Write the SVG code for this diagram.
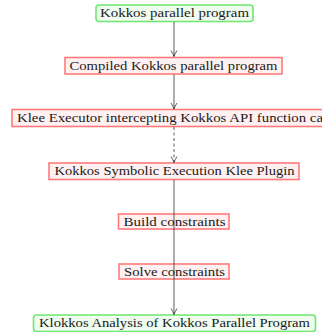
<svg xmlns="http://www.w3.org/2000/svg" width="322" height="332" viewBox="0 0 322 332">
<style>
.g{fill:#effcef;stroke:#6fe86f;stroke-width:1.6}
.r{fill:#fff1f1;stroke:#ff7b7b;stroke-width:1.6}
text{font-family:"Liberation Serif","DejaVu Serif",serif;font-size:12px;fill:#1a1a1a;text-anchor:middle}
.c{stroke:#333;stroke-width:0.8;fill:none}
</style>
<defs>
<marker id="ah" viewBox="0 0 8 8" refX="7" refY="4" markerWidth="8" markerHeight="8" markerUnits="userSpaceOnUse" orient="auto">
<path d="M1,1 Q4,3 7,4 Q4,5 1,7" fill="none" stroke="#333" stroke-width="0.8"/>
</marker>
</defs>
<g id="n1"><rect class="g" x="96" y="5" width="157" height="16.5" rx="3"/><text x="174.5" y="17.3" textLength="149" lengthAdjust="spacingAndGlyphs">Kokkos parallel program</text></g>
<g id="n2"><rect class="r" x="65" y="57.5" width="217" height="16.5"/><text x="173.5" y="69.8" textLength="208" lengthAdjust="spacingAndGlyphs">Compiled Kokkos parallel program</text></g>
<g id="n3"><rect class="r" x="12" y="109.5" width="330" height="17"/><text x="177" y="122" textLength="320" lengthAdjust="spacingAndGlyphs">Klee Executor intercepting Kokkos API function calls</text></g>
<g id="n4"><rect class="r" x="49" y="163" width="250" height="16.5"/><text x="174.5" y="175.3" textLength="240" lengthAdjust="spacingAndGlyphs">Kokkos Symbolic Execution Klee Plugin</text></g>
<g id="n5"><rect class="r" x="118.5" y="214" width="110.5" height="15"/><text x="174.5" y="225.6" textLength="102" lengthAdjust="spacingAndGlyphs">Build constraints</text></g>
<g id="n6"><rect class="r" x="119" y="264" width="110" height="15"/><text x="174.5" y="275.6" textLength="101" lengthAdjust="spacingAndGlyphs">Solve constraints</text></g>
<g id="n7"><rect class="g" x="33.5" y="315" width="282" height="16.5" rx="3"/><text x="174.5" y="327.3" textLength="271" lengthAdjust="spacingAndGlyphs">Klokkos Analysis of Kokkos Parallel Program</text></g>
<g id="connectors">
<line class="c" x1="174" y1="22" x2="174" y2="56.5" marker-end="url(#ah)"/>
<line class="c" x1="174" y1="74.5" x2="174" y2="109" marker-end="url(#ah)"/>
<line class="c" x1="174" y1="127" x2="174" y2="162.5" stroke-dasharray="3,2.5" marker-end="url(#ah)"/>
<line class="c" x1="174" y1="180" x2="174" y2="314.5" marker-end="url(#ah)"/>
</g>
</svg>
